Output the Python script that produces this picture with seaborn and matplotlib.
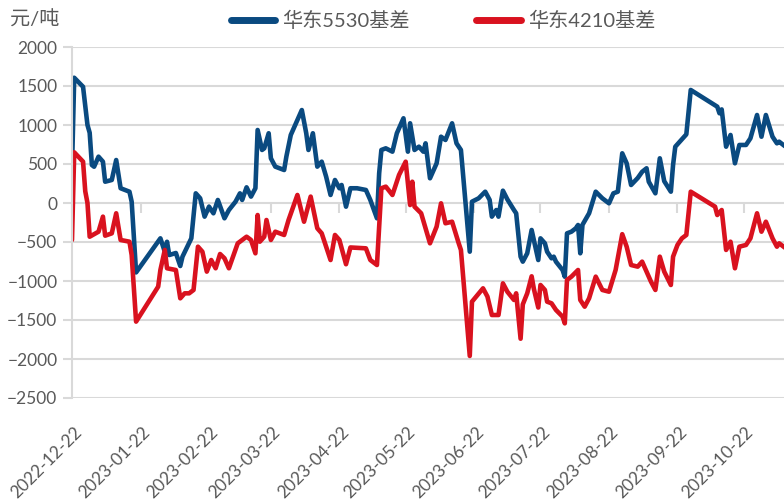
import matplotlib
matplotlib.use("Agg")
import matplotlib.pyplot as plt
import matplotlib.dates as mdates
from matplotlib.transforms import ScaledTranslation
import pandas as pd
import seaborn as sns

# ---------------- data ----------------
series_names = ["华东5530基差", "华东4210基差"]
unit_label = "元/吨"

dates_5530 = [
    "2022-12-22", "2022-12-23", "2022-12-27", "2022-12-29", "2022-12-30", "2022-12-31", "2023-01-01", "2023-01-03",
    "2023-01-05", "2023-01-06", "2023-01-09", "2023-01-11", "2023-01-13", "2023-01-17", "2023-01-18", "2023-01-20",
    "2023-01-31", "2023-02-02", "2023-02-03", "2023-02-04", "2023-02-07", "2023-02-09", "2023-02-10", "2023-02-14",
    "2023-02-16", "2023-02-18", "2023-02-20", "2023-02-22", "2023-02-24", "2023-02-26", "2023-03-01", "2023-03-03",
    "2023-03-06", "2023-03-08", "2023-03-09", "2023-03-11", "2023-03-13", "2023-03-15", "2023-03-16", "2023-03-18",
    "2023-03-19", "2023-03-21", "2023-03-22", "2023-03-24", "2023-03-28", "2023-03-29", "2023-03-31", "2023-04-05",
    "2023-04-07", "2023-04-08", "2023-04-10", "2023-04-12", "2023-04-14", "2023-04-16", "2023-04-18", "2023-04-20",
    "2023-04-22", "2023-04-23", "2023-04-25", "2023-04-27", "2023-04-30", "2023-05-04", "2023-05-06", "2023-05-09",
    "2023-05-10", "2023-05-11", "2023-05-13", "2023-05-16", "2023-05-18", "2023-05-21", "2023-05-23", "2023-05-24",
    "2023-05-26", "2023-05-28", "2023-05-30", "2023-05-31", "2023-06-02", "2023-06-05", "2023-06-07", "2023-06-09",
    "2023-06-12", "2023-06-14", "2023-06-16", "2023-06-20", "2023-06-21", "2023-06-24", "2023-06-27", "2023-06-29",
    "2023-06-30", "2023-07-02", "2023-07-03", "2023-07-05", "2023-07-07", "2023-07-10", "2023-07-11", "2023-07-13",
    "2023-07-14", "2023-07-16", "2023-07-18", "2023-07-19", "2023-07-21", "2023-07-22", "2023-07-24", "2023-07-25",
    "2023-07-26", "2023-07-27", "2023-07-28", "2023-07-29", "2023-08-01", "2023-08-02", "2023-08-03", "2023-08-05",
    "2023-08-07", "2023-08-08", "2023-08-09", "2023-08-10", "2023-08-13", "2023-08-16", "2023-08-19", "2023-08-22",
    "2023-08-24", "2023-08-26", "2023-08-28", "2023-08-30", "2023-09-01", "2023-09-04", "2023-09-06", "2023-09-08",
    "2023-09-09", "2023-09-12", "2023-09-14", "2023-09-16", "2023-09-19", "2023-09-20", "2023-09-21", "2023-09-23",
    "2023-09-26", "2023-09-28", "2023-10-10", "2023-10-11", "2023-10-12", "2023-10-14", "2023-10-16", "2023-10-18",
    "2023-10-20", "2023-10-23", "2023-10-25", "2023-10-28", "2023-10-30", "2023-11-01", "2023-11-04", "2023-11-06",
    "2023-11-07", "2023-11-10",
]
basis_5530 = [
    430, 1606, 1490, 1000, 900, 487, 465, 594, 530, 273, 295, 551, 189, 145, 17, -890,
    -453, -625, -497, -667, -641, -808, -688, -453, 124, 60, -175, -47, -132, 39, -196, -90,
    17, 124, 39, 201, 82, 189, 936, 680, 701, 894, 573, 466, 423, 594, 872, 1192,
    894, 680, 894, 466, 530, 338, 103, 295, 189, 231, -47, 189, 189, 167, 39, -196,
    381, 680, 701, 658, 894, 1086, 658, 1022, 680, 722, 658, 765, 317, 509, 850, 808,
    1022, 765, 680, -624, 17, 60, 145, 39, -175, -90, -175, 158, 47, -90, -132, -688,
    -752, -645, -346, -474, -731, -453, -517, -624, -667, -709, -688, -752, -859, -945, -389, -368,
    -324, -282, -645, -280, -132, 145, 60, -4, 124, 145, 637, 509, 231, 320, 400, 445,
    273, 124, 573, 280, 145, 488, 722, 786, 880, 1449, 1235, 1150, 1200, 722, 872, 509,
    744, 744, 829, 1128, 850, 1128, 850, 765, 786, 720,
]

dates_4210 = [
    "2022-12-22", "2022-12-23", "2022-12-27", "2022-12-28", "2022-12-29", "2022-12-30", "2023-01-01", "2023-01-03",
    "2023-01-05", "2023-01-06", "2023-01-09", "2023-01-11", "2023-01-13", "2023-01-17", "2023-01-18", "2023-01-20",
    "2023-01-30", "2023-01-31", "2023-02-02", "2023-02-03", "2023-02-07", "2023-02-09", "2023-02-11", "2023-02-13",
    "2023-02-15", "2023-02-17", "2023-02-19", "2023-02-21", "2023-02-23", "2023-02-25", "2023-02-27", "2023-03-01",
    "2023-03-03", "2023-03-07", "2023-03-09", "2023-03-11", "2023-03-13", "2023-03-15", "2023-03-16", "2023-03-17",
    "2023-03-19", "2023-03-20", "2023-03-22", "2023-03-24", "2023-03-28", "2023-03-30", "2023-04-03", "2023-04-06",
    "2023-04-09", "2023-04-12", "2023-04-14", "2023-04-18", "2023-04-20", "2023-04-22", "2023-04-25", "2023-04-27",
    "2023-05-04", "2023-05-06", "2023-05-09", "2023-05-11", "2023-05-13", "2023-05-16", "2023-05-19", "2023-05-22",
    "2023-05-24", "2023-05-25", "2023-05-26", "2023-05-29", "2023-06-02", "2023-06-05", "2023-06-07", "2023-06-09",
    "2023-06-12", "2023-06-15", "2023-06-16", "2023-06-20", "2023-06-21", "2023-06-26", "2023-06-28", "2023-06-30",
    "2023-07-03", "2023-07-05", "2023-07-07", "2023-07-10", "2023-07-11", "2023-07-13", "2023-07-14", "2023-07-16",
    "2023-07-18", "2023-07-19", "2023-07-21", "2023-07-22", "2023-07-24", "2023-07-25", "2023-07-27", "2023-07-29",
    "2023-08-01", "2023-08-02", "2023-08-03", "2023-08-05", "2023-08-08", "2023-08-09", "2023-08-11", "2023-08-13",
    "2023-08-16", "2023-08-19", "2023-08-22", "2023-08-25", "2023-08-28", "2023-08-30", "2023-09-01", "2023-09-04",
    "2023-09-06", "2023-09-08", "2023-09-10", "2023-09-12", "2023-09-14", "2023-09-16", "2023-09-19", "2023-09-20",
    "2023-09-22", "2023-09-24", "2023-09-26", "2023-09-28", "2023-10-09", "2023-10-10", "2023-10-12", "2023-10-14",
    "2023-10-16", "2023-10-18", "2023-10-20", "2023-10-23", "2023-10-25", "2023-10-28", "2023-10-30", "2023-11-01",
    "2023-11-04", "2023-11-06", "2023-11-07", "2023-11-10",
]
basis_4210 = [
    -474, 650, 530, 150, 0, -432, -400, -368, -175, -419, -389, -132, -474, -496, -667, -1521,
    -1072, -859, -602, -837, -859, -1222, -1158, -1158, -1115, -560, -624, -880, -731, -837, -654, -709,
    -837, -517, -474, -432, -474, -645, -154, -496, -432, -218, -474, -368, -410, -218, 103, -240,
    82, -324, -389, -731, -410, -474, -785, -570, -581, -731, -795, 189, 210, 103, 360, 530,
    -26, 273, -47, -132, -517, -303, -4, -260, -240, -517, -602, -1961, -1265, -1094, -1200, -1436,
    -1436, -1030, -1137, -1243, -1158, -1740, -1300, -1158, -940, -1100, -1340, -1051, -1115, -1265, -1286, -1371,
    -1457, -1543, -987, -944, -859, -1243, -1329, -1222, -944, -1115, -1137, -859, -400, -560, -795, -816,
    -752, -880, -1008, -1115, -688, -880, -1051, -688, -538, -453, -410, 145, -47, -154, -90, -602,
    -496, -837, -560, -538, -453, -132, -368, -240, -453, -560, -517, -581,
]

tick_dates = ["2022-12-22", "2023-01-22", "2023-02-22", "2023-03-22", "2023-04-22", "2023-05-22",
              "2023-06-22", "2023-07-22", "2023-08-22", "2023-09-22", "2023-10-22"]
y_ticks = [-2500, -2000, -1500, -1000, -500, 0, 500, 1000, 1500, 2000]

colors = ["#0A4A80", "#D9121F"]

# ---------------- style ----------------
sns.set_theme(style="white")
plt.rcParams["font.family"] = ["Lato", "Noto Sans CJK SC", "DejaVu Sans"]
grid_c = "#d9d9d9"
text_c = "#595959"

df = pd.concat([
    pd.DataFrame({"date": pd.to_datetime(dates_5530), "value": basis_5530, "series": series_names[0]}),
    pd.DataFrame({"date": pd.to_datetime(dates_4210), "value": basis_4210, "series": series_names[1]}),
], ignore_index=True)

fig = plt.figure(figsize=(7.84, 5.0), dpi=100)
ax = fig.add_axes([72 / 784, 102 / 500, 712 / 784, 351 / 500])

sns.lineplot(data=df, x="date", y="value", hue="series", hue_order=series_names,
             palette=colors, linewidth=3.3, estimator=None, ax=ax)

# axes limits
start = pd.Timestamp(tick_dates[0])
ax.set_xlim(start, start + pd.Timedelta(days=322.2))
ax.set_ylim(y_ticks[0], y_ticks[-1])

# y axis / grid
ax.set_yticks(y_ticks)
ax.yaxis.grid(True, color=grid_c, linewidth=1.5)
ax.xaxis.grid(False)
ax.set_axisbelow(True)
for s in ["top", "right", "bottom"]:
    ax.spines[s].set_visible(False)
ax.spines["left"].set_color(grid_c)
ax.spines["left"].set_linewidth(1.5)
ax.tick_params(axis="y", length=6.5, width=1.5, color=grid_c, labelcolor=text_c,
               labelsize=12.5, pad=4, left=True)
ax.set_ylabel("")
ax.set_xlabel("")

# x axis labels at the bottom
ticks = pd.to_datetime(tick_dates)
ax.set_xticks(ticks)
ax.xaxis.set_major_formatter(mdates.DateFormatter("%Y-%m-%d"))
ax.tick_params(axis="x", length=0, labelcolor=text_c, labelsize=12.5, pad=23)
shift = ScaledTranslation(0.07, 0.0, fig.dpi_scale_trans)
for lbl in ax.get_xticklabels():
    lbl.set_rotation(45)
    lbl.set_ha("right")
    lbl.set_va("center")
    lbl.set_rotation_mode("anchor")
    lbl.set_transform(lbl.get_transform() + shift)

# small tick marks along the zero line
zero_pos = (0 - y_ticks[0]) / (y_ticks[-1] - y_ticks[0])
sec = ax.secondary_xaxis(zero_pos)
sec.set_xticks(ticks)
sec.tick_params(axis="x", direction="in", length=7, width=1.5, color=grid_c,
                labeltop=False, labelbottom=False)
for s in sec.spines.values():
    s.set_visible(False)

# legend
handles, labels = ax.get_legend_handles_labels()
if ax.legend_:
    ax.legend_.remove()
fig.legend(handles, labels, loc="center", bbox_to_anchor=(443 / 784, 1 - 20 / 500),
           ncol=2, frameon=False, fontsize=14.5, handlelength=2.2, handletextpad=0.35,
           columnspacing=3.3, labelcolor=text_c)
for h in fig.legends[0].get_lines():
    h.set_linewidth(5)

fig.text(10 / 784, 1 - 20 / 500, unit_label, ha="left", va="center", fontsize=14.5, color=text_c)

fig.savefig("out.png", dpi=100)
